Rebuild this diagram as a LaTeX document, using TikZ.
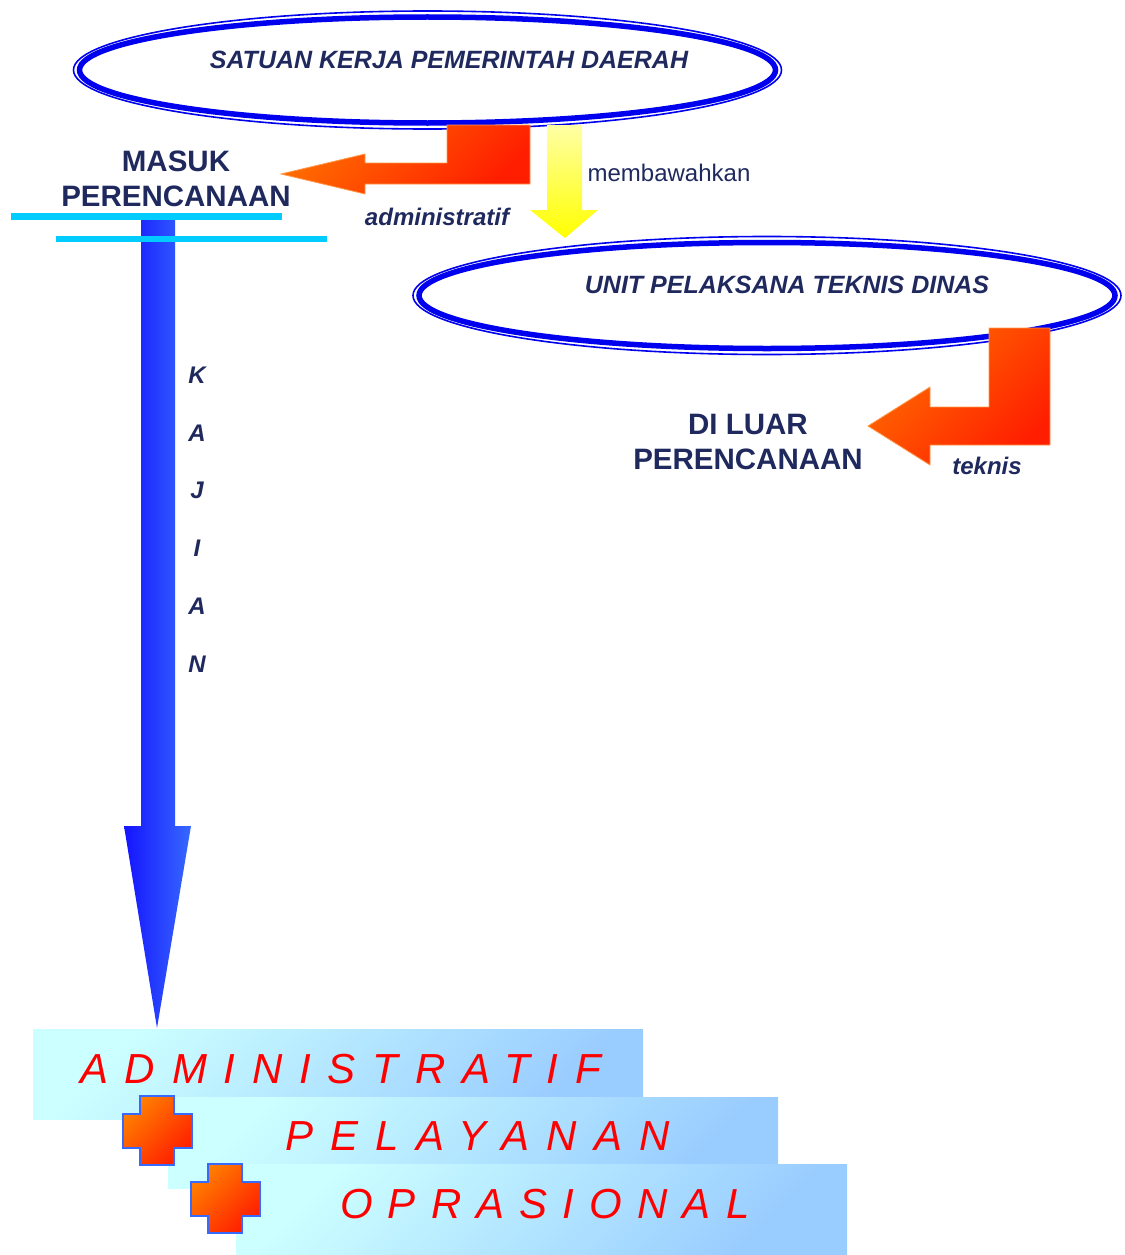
\documentclass[tikz,border=0pt]{standalone}
\usepackage{fontspec}
\setmainfont{Liberation Sans}
\usetikzlibrary{shapes.geometric}
\definecolor{navy}{RGB}{31,41,94}
\definecolor{ringblue}{RGB}{0,0,238}
\definecolor{barcyan}{RGB}{0,204,255}
\definecolor{arrorange}{RGB}{255,110,0}
\definecolor{arrred}{RGB}{255,30,0}
\definecolor{arrblue}{RGB}{20,20,255}
\definecolor{arrsky}{RGB}{55,105,255}
\definecolor{palecyan}{RGB}{204,255,255}
\definecolor{paleblue}{RGB}{153,204,255}
\begin{document}
\begin{tikzpicture}[x=1pt,y=-1pt,
  ring/.style={ellipse,draw=ringblue,line width=5.5pt,minimum width=696pt,minimum height=106pt,inner sep=0pt},
  outring/.style={draw=ringblue,line width=1.6pt},
  ringtext/.style={font=\bfseries\itshape\fontsize{25}{30}\selectfont,text=navy},
  heading/.style={font=\bfseries\fontsize{29.5}{35}\selectfont,text=navy,align=center},
  note/.style={font=\bfseries\itshape\fontsize{24}{28}\selectfont,text=navy},
  fatarrow/.style={draw=arrorange!70,line width=0.8pt,top color=arrorange,bottom color=arrred,shading angle=45},
  band/.style={top color=palecyan,bottom color=paleblue,shading angle=45},
  bandtext/.style={font=\itshape\fontsize{42}{50}\selectfont\addfontfeature{LetterSpace=#1},text=red,anchor=base west,inner sep=0pt},
  plus/.style={draw=arrsky,line width=2pt,top color=orange,bottom color=arrred,shading angle=45}
]
  \useasboundingbox (0,0) rectangle (1124,1255);
  % organisations
  \node[ring] (skpd) at (427.5,70) {};
  \draw[outring] (skpd.center) ellipse [x radius=354pt,y radius=59pt];
  \node[ringtext] (skpdtext) at (449,60) {SATUAN KERJA PEMERINTAH DAERAH};
  \node[ring] (uptd) at (767,295.5) {};
  \draw[outring] (uptd.center) ellipse [x radius=354pt,y radius=59pt];
  \node[ringtext] (uptdtext) at (787,285) {UNIT PELAKSANA TEKNIS DINAS};
  % block arrows
  \path[fatarrow] (530,125) -- (530,184) -- (365,184) -- (365,194) -- (281,174)
    -- (365,154) -- (365,163) -- (447,163) -- (447,125) -- cycle;
  \path[top color={rgb,255:red,255;green,255;blue,165},bottom color=yellow]
    (547,125) -- (547,210) -- (530,210) -- (565,238) -- (598,210) -- (582,210) -- (582,125) -- cycle;
  \path[fatarrow] (1050,328) -- (1050,445) -- (930,445) -- (930,465) -- (868,426)
    -- (930,387) -- (930,407) -- (989,407) -- (989,328) -- cycle;
  \path[left color=arrblue,right color=arrsky]
    (141,218) -- (141,826) -- (124,826) -- (157,1028) -- (191,826) -- (175,826) -- (175,218) -- cycle;
  \draw[barcyan,line width=7pt] (11,216) -- (282,216);
  \draw[barcyan,line width=6pt] (56,239) -- (327,239);
  % labels
  \node[heading] (masuk) at (176,179) {MASUK\\PERENCANAAN};
  \node[heading] (luar) at (748,442) {DI LUAR\\PERENCANAAN};
  \node[font=\fontsize{24}{28}\selectfont,text=navy] (bawah) at (669,173) {membawahkan};
  \node[note] (adm) at (437,217) {administratif};
  \node[note] (tek) at (987,466) {teknis};
  \foreach \l [count=\i] in {K,A,J,I,A,N}
    \node[note] (kaj\i) at (197,{375+57.8*(\i-1)}) {\l};
  % results
  \path[band] (33,1029) rectangle (643,1119);
  \node[bandtext=40] (admin) at (80,1083) {ADMINISTRATIF};
  \path[band] (168,1097) rectangle (778,1188);
  \node[bandtext=41] (layan) at (285,1150) {PELAYANAN};
  \path[plus] (140,1096) -- (174,1096) -- (174,1114) -- (192,1114) -- (192,1148) -- (174,1148)
    -- (174,1165) -- (140,1165) -- (140,1148) -- (123,1148) -- (123,1114) -- (140,1114) -- cycle;
  \path[band] (236,1164) rectangle (847,1255);
  \node[bandtext=36] (oper) at (340,1218) {OPRASIONAL};
  \path[plus,shift={(68,68)}] (140,1096) -- (174,1096) -- (174,1114) -- (192,1114) -- (192,1148) -- (174,1148)
    -- (174,1165) -- (140,1165) -- (140,1148) -- (123,1148) -- (123,1114) -- (140,1114) -- cycle;
\end{tikzpicture}
\end{document}
